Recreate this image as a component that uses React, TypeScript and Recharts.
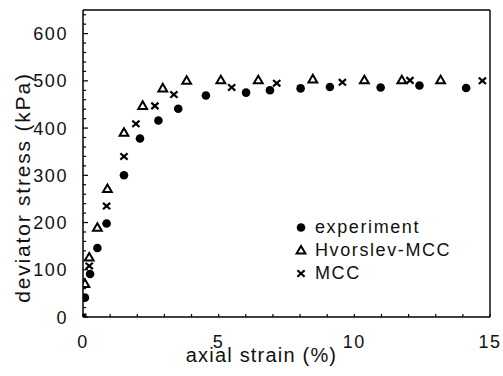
import React from 'react';
import { ScatterChart, Scatter, XAxis, YAxis, ReferenceLine, Legend, Label } from 'recharts';

// experiment (filled circles)
const expX = [0.07, 0.26, 0.53, 0.87, 1.51, 2.1, 2.78, 3.51, 4.53, 6.01, 6.89, 8.02, 9.1, 10.97, 12.4, 14.12];
const expY = [41, 91, 146, 198, 300, 378, 416, 441, 469, 475, 480, 484, 487, 486, 490, 485];
// Hvorslev-MCC (open triangles)
const hvX = [0.07, 0.23, 0.53, 0.9, 1.51, 2.2, 2.94, 3.82, 5.08, 6.46, 8.47, 10.37, 11.75, 13.18];
const hvY = [70, 126, 189, 271, 390, 447, 484, 500, 501, 501, 503, 501, 501, 501];
// MCC (crosses)
const mccX = [0.23, 0.87, 1.51, 1.95, 2.65, 3.35, 5.48, 7.14, 9.56, 12.05, 14.72];
const mccY = [108, 235, 340, 409, 447, 471, 486, 495, 497, 501, 500];
// start point (filled square)
const originX = [0];
const originY = [0];

const xTicks = [0, 1, 2, 3, 4, 5, 6, 7, 8, 9, 10, 11, 12, 13, 14, 15];
const xLabels = [0, 5, 10, 15];
const yTicks = [0, 20, 40, 60, 80, 100, 120, 140, 160, 180, 200, 220, 240, 260, 280, 300, 320, 340, 360, 380, 400, 420, 440, 460, 480, 500, 520, 540, 560, 580, 600, 620, 640];
const yLabels = [0, 100, 200, 300, 400, 500, 600];

const legendNames = ['experiment', 'Hvorslev-MCC', 'MCC'];

const zip = (xs: number[], ys: number[]) => xs.map((x, i) => ({ x, y: ys[i] }));
const expData = zip(expX, expY);
const hvData = zip(hvX, hvY);
const mccData = zip(mccX, mccY);
const originData = zip(originX, originY);

const FONT = "'Liberation Sans', Arial, Helvetica, sans-serif";
const textStyle: React.CSSProperties = { fontFamily: FONT, fontSize: 18, letterSpacing: '1.6px', fill: '#111' };
const xTitleStyle: React.CSSProperties = { fontFamily: FONT, fontSize: 20, letterSpacing: '1.2px', fill: '#111' };
const yTitleStyle: React.CSSProperties = { fontFamily: FONT, fontSize: 21, letterSpacing: '1.8px', fill: '#111' };

const DotShape = (p: any) => <circle cx={p.cx} cy={p.cy} r={4.3} fill="#000" />;
const TriShape = (p: any) => (
  <polygon
    points={`${p.cx},${p.cy - 4.6} ${p.cx + 4.4},${p.cy + 3} ${p.cx - 4.4},${p.cy + 3}`}
    fill="none"
    stroke="#000"
    strokeWidth={2}
    strokeLinejoin="miter"
  />
);
const CrossShape = (p: any) => (
  <g stroke="#000" strokeWidth={2.2}>
    <line x1={p.cx - 3.6} y1={p.cy - 3.2} x2={p.cx + 3.6} y2={p.cy + 3.2} />
    <line x1={p.cx - 3.6} y1={p.cy + 3.2} x2={p.cx + 3.6} y2={p.cy - 3.2} />
  </g>
);
const SquareShape = (p: any) => <rect x={p.cx - 3.5} y={p.cy - 3.5} width={7} height={7} fill="#000" />;

const XTick = (props: any) => {
  const { x, y, payload } = props;
  const v = payload.value;
  return (
    <g>
      <line x1={x} x2={x} y1={y} y2={y - 3} stroke="#000" strokeWidth={1.2} />
      {xLabels.includes(v) && (
        <text x={x} y={y + 31} textAnchor="middle" style={textStyle}>
          {v}
        </text>
      )}
    </g>
  );
};

const YTick = (props: any) => {
  const { x, y, payload } = props;
  const v = payload.value;
  const major = yLabels.includes(v);
  return (
    <g>
      <line x1={x} x2={x + (major ? 5 : 3)} y1={y} y2={y} stroke="#000" strokeWidth={1.2} />
      {major && (
        <text x={x - 15} y={y + 6.5} textAnchor="end" style={textStyle}>
          {v}
        </text>
      )}
    </g>
  );
};

const XTitle = (props: any) => {
  const vb = props.viewBox || { x: 83, y: 317, width: 407, height: 59 };
  return (
    <text x={vb.x + vb.width / 2 - 25} y={vb.y + 45} textAnchor="middle" style={xTitleStyle}>
      axial strain (%)
    </text>
  );
};

const YTitle = (props: any) => {
  const vb = props.viewBox || { x: 0, y: 10, width: 83, height: 307 };
  const cx = vb.x + 30;
  const cy = vb.y + vb.height / 2 + 24;
  return (
    <text
      x={cx}
      y={cy}
      textAnchor="middle"
      transform={`rotate(-90 ${cx} ${cy})`}
      style={yTitleStyle}
    >
      deviator stress (kPa)
    </text>
  );
};

const icons = [
  <circle cx={8} cy={11.5} r={4.3} fill="#000" />,
  <polygon points="8,6.9 12.4,14.5 3.6,14.5" fill="none" stroke="#000" strokeWidth={2} />,
  <g stroke="#000" strokeWidth={2.2}>
    <line x1={4.4} y1={8.3} x2={11.6} y2={14.7} />
    <line x1={4.4} y1={14.7} x2={11.6} y2={8.3} />
  </g>,
];

const LegendContent = () => (
  <div style={{ fontFamily: FONT, fontSize: 18, letterSpacing: '1.6px', color: '#111' }}>
    {legendNames.map((n, i) => (
      <div key={n} style={{ display: 'flex', alignItems: 'center', height: 23, lineHeight: '23px' }}>
        <svg width={16} height={23} style={{ marginRight: 6 }}>
          {icons[i]}
        </svg>
        <span>{n}</span>
      </div>
    ))}
  </div>
);

export default function App() {
  return (
    <div style={{ position: 'absolute', left: 0, top: 0, background: '#fff' }}>
      <ScatterChart width={503} height={376} margin={{ top: 10, right: 13, bottom: 0, left: 0 }}>
        <XAxis
          type="number"
          dataKey="x"
          domain={[0, 15]}
          ticks={xTicks}
          interval={0}
          height={59}
          tickSize={0}
          tickMargin={0}
          tickLine={false}
          tick={<XTick />}
          axisLine={{ stroke: '#000', strokeWidth: 1.5 }}
          allowDataOverflow
        >
          <Label content={<XTitle />} />
        </XAxis>
        <YAxis
          type="number"
          dataKey="y"
          domain={[0, 650]}
          ticks={yTicks}
          interval={0}
          width={83}
          tickSize={0}
          tickMargin={0}
          tickLine={false}
          tick={<YTick />}
          axisLine={{ stroke: '#000', strokeWidth: 1.5 }}
          allowDataOverflow
        >
          <Label content={<YTitle />} />
        </YAxis>
        <ReferenceLine y={650} stroke="#000" strokeWidth={1.4} />
        <ReferenceLine x={15} stroke="#000" strokeWidth={1.4} />
        <Scatter name="experiment" data={expData} shape={DotShape} isAnimationActive={false} />
        <Scatter name="Hvorslev-MCC" data={hvData} shape={TriShape} isAnimationActive={false} />
        <Scatter name="MCC" data={mccData} shape={CrossShape} isAnimationActive={false} />
        <Scatter name="start" data={originData} shape={SquareShape} isAnimationActive={false} legendType="none" />
        <Legend
          layout="vertical"
          align="center"
          verticalAlign="middle"
          content={<LegendContent />}
          wrapperStyle={{ position: 'absolute', left: 293, top: 216, width: 200 }}
        />
      </ScatterChart>
    </div>
  );
}
